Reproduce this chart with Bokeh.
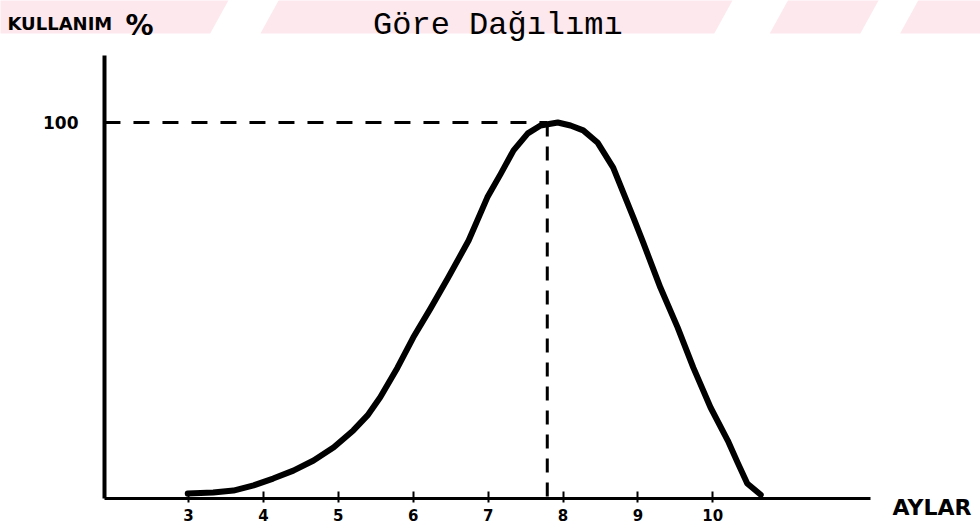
from bokeh.plotting import figure
from bokeh.models import Range1d, FixedTicker, Label, LinearAxis
from bokeh.embed import file_html
from bokeh.resources import INLINE

# ---- data ----
months = [2.99, 3.33, 3.60, 3.87, 4.13, 4.40, 4.67, 4.94, 5.20, 5.39, 5.56,
          5.79, 6.00, 6.23, 6.46, 6.74, 6.99, 7.17, 7.34, 7.53, 7.70, 7.93,
          8.10, 8.27, 8.46, 8.67, 8.94, 9.07, 9.30, 9.53, 9.74, 9.97, 10.20,
          10.33, 10.46, 10.64]
usage = [1.3, 1.6, 2.1, 3.5, 5.3, 7.4, 10.1, 13.6, 18.1, 22.1, 26.9,
         34.8, 42.8, 50.5, 58.5, 68.6, 80.1, 86.4, 92.6, 97.1, 99.2, 100.0,
         99.2, 97.9, 94.7, 88.0, 74.7, 68.1, 56.1, 45.5, 34.8, 24.2, 15.4,
         9.6, 4.0, 1.0]
x_ticks = [3, 4, 5, 6, 7, 8, 9, 10]
y_ticks = [100]
peak_month = 7.79
peak_value = 100

title_text = "Göre Dağılımı"
y_title = "KULLANIM"
y_unit = "%"
x_title = "AYLAR"

# extent of the drawn axes (data units)
AX_X0, AX_X1 = 1.878, 12.105
AX_Y0, AX_Y1 = 0, 117.8
# visible window (data units) covering the whole canvas
VX0, VX1 = 0.490, 13.574
VY0, VY1 = -8.78, 132.45

p = figure(width=980, height=531, output_backend="svg", toolbar_location=None,
           x_range=Range1d(VX0, VX1), y_range=Range1d(VY0, VY1),
           x_axis_location=None, y_axis_location=None,
           min_border=0, min_border_left=0, min_border_right=0,
           min_border_top=0, min_border_bottom=0)
p.outline_line_color = None
p.grid.grid_line_color = None
p.background_fill_color = "white"
p.border_fill_color = "white"

# faint pink watermark stripes of the scanned page (decoration)
band_top, band_bot = VY1 + 1, 123.7
slant = 0.27
band_spans = [(VX0 - 0.5, 3.56), (4.23, 10.29), (11.03, 12.24), (12.77, VX1 + 0.5)]
p.patches([[a, b, b - slant, a - slant] for a, b in band_spans],
          [[band_top, band_top, band_bot, band_bot] for _ in band_spans],
          fill_color="#fde8ed", line_color=None)

xa = LinearAxis(fixed_location=0, bounds=(AX_X0, AX_X1),
                ticker=FixedTicker(ticks=x_ticks))
xa.axis_line_width = 3
xa.axis_line_color = "black"
xa.major_tick_in = 7
xa.major_tick_out = 4
xa.major_tick_line_width = 2
xa.minor_tick_line_color = None
xa.major_label_standoff = 7
xa.major_label_text_font = "DejaVu Sans"
xa.major_label_text_font_style = "bold"
xa.major_label_text_font_size = "15px"
xa.major_label_text_color = "black"
p.add_layout(xa, "below")

ya = LinearAxis(fixed_location=AX_X0, bounds=(AX_Y0, AX_Y1),
                ticker=FixedTicker(ticks=y_ticks))
ya.axis_line_width = 4
ya.axis_line_color = "black"
ya.major_tick_in = 0
ya.major_tick_out = 0
ya.minor_tick_line_color = None
ya.major_label_standoff = 26
ya.major_label_text_font = "DejaVu Sans"
ya.major_label_text_font_style = "bold"
ya.major_label_text_font_size = "17px"
ya.major_label_text_color = "black"
p.add_layout(ya, "left")

# dashed guide lines to the peak
p.line([AX_X0, peak_month], [peak_value, peak_value], line_color="black",
       line_width=3, line_dash="16 13")
p.line([peak_month, peak_month], [peak_value, 0], line_color="black",
       line_width=3, line_dash="14 10")

# curve
p.line(months, usage, line_color="black", line_width=6, line_join="round",
       line_cap="round")

# texts
p.add_layout(Label(x=0.583, y=126.4, text=y_title, text_font="DejaVu Sans",
                   text_font_style="bold", text_font_size="18px",
                   text_baseline="alphabetic", text_color="black"))
p.add_layout(Label(x=2.16, y=125.8, text=y_unit, text_font="DejaVu Sans",
                   text_font_style="bold", text_font_size="28px",
                   text_baseline="alphabetic", text_color="black"))
p.add_layout(Label(x=7.13, y=125.8, text=title_text,
                   text_font="Liberation Mono", text_font_size="32px",
                   text_align="center", text_baseline="alphabetic",
                   text_color="black"))
p.add_layout(Label(x=12.40, y=-2.4, text=x_title, text_font="DejaVu Sans",
                   text_font_style="bold", text_font_size="22px",
                   text_baseline="alphabetic", text_color="black"))

open("out.html", "w").write(file_html(p, INLINE))
